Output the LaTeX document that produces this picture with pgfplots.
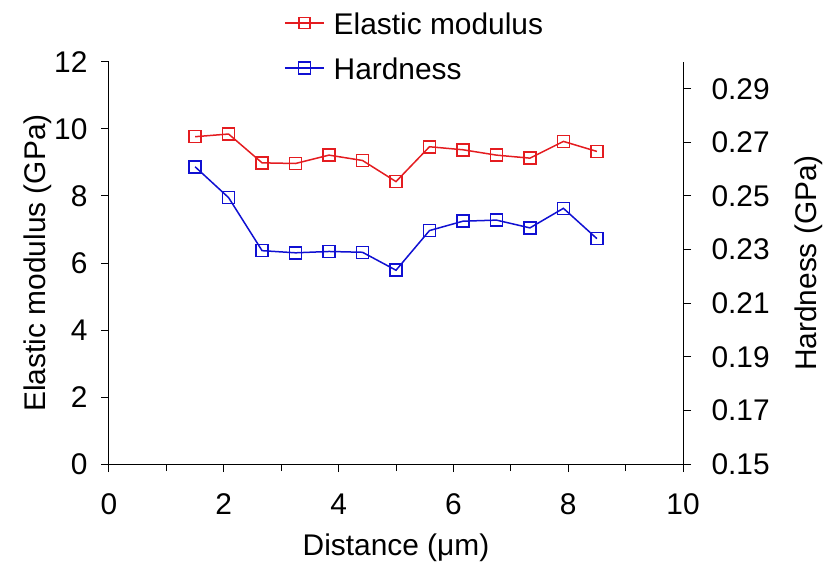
\documentclass[border=0pt]{standalone}
\usepackage{fontspec}
\setmainfont{Liberation Sans}
\usepackage{pgfplots}
\pgfplotsset{compat=1.18}
\definecolor{myred}{RGB}{228,28,32}
\definecolor{myblue}{RGB}{16,16,210}
\newcommand{\bigf}{\fontsize{30}{36}\selectfont}
\pgfplotsset{
  common/.style={
    scale only axis, width=574bp, height=402bp,
    xmin=0, xmax=10,
    axis line style={-, line width=1bp},
    tick align=outside, major tick length=8bp, minor tick length=7bp,
    tick style={line width=1bp, black},
    ticklabel style={font=\bigf},
    label style={font=\bigf},
    /pgf/number format/assume math mode=true,
  },
  legend image code/.code={\draw[mark repeat=2, mark phase=2, #1] plot coordinates {(0bp,0bp) (19.5bp,0bp) (39bp,0bp)};},
}
\begin{document}
\begin{tikzpicture}
\useasboundingbox (-109bp,-103bp) rectangle (720bp,464bp);
\begin{axis}[
  common,
  ymin=0, ymax=12,
  axis x line*=bottom, axis y line*=left,
  xtick={0,2,4,6,8,10}, minor xtick={1,3,5,7,9},
  ytick={0,2,4,6,8,10,12},
  xticklabel style={yshift=-18bp},
  yticklabel style={xshift=-10bp},
  xlabel={Distance (μm)}, ylabel={Elastic modulus (GPa)},
  xlabel style={at={(axis description cs:0.5,-0.209)}, anchor=center},
  ylabel style={at={(axis description cs:-0.1237,0.5)}, anchor=center, rotate=0},
]
\addplot[myred, line width=1.5bp, mark=square, mark size=6bp, mark options={line width=1.5bp, fill=white}] coordinates {
(1.5,9.77) (2.0833,9.85) (2.6667,8.99) (3.25,8.97) (3.8333,9.22) (4.4167,9.06) (5.0,8.43) (5.5833,9.47) (6.1667,9.38) (6.75,9.22) (7.3333,9.13) (7.9167,9.63) (8.5,9.33)
};
\end{axis}
\begin{axis}[
  common,
  ymin=0.15, ymax=0.30,
  axis x line=none, axis y line*=right,
  ytick={0.15,0.17,0.19,0.21,0.23,0.25,0.27,0.29},
  yticklabel style={xshift=17bp, /pgf/number format/.cd, fixed, fixed zerofill, precision=2},
  ylabel={Hardness (GPa)},
  ylabel style={at={(axis description cs:1.2195,0.5)}, anchor=center, rotate=0},
  legend cell align=left,
  legend style={draw=none, fill=none, font=\bigf, at={(rel axis cs:0.3049,1.041)}, anchor=west,
    inner sep=0pt, row sep=23bp, column sep=9bp,
    nodes={inner sep=0pt, text height=22bp, text depth=0bp}},
]
\addlegendimage{myred, line width=1.5bp, mark=square, mark size=5.5bp, mark options={line width=1.5bp, fill=white}}
\addlegendentry{Elastic modulus}
\addplot[myblue, line width=1.5bp, mark=square, mark size=6bp, mark options={line width=1.5bp, fill=white}] coordinates {
(1.5,0.2609) (2.0833,0.2494) (2.6667,0.2296) (3.25,0.2288) (3.8333,0.2293) (4.4167,0.2290) (5.0,0.2223) (5.5833,0.2371) (6.1667,0.2406) (6.75,0.2410) (7.3333,0.2381) (7.9167,0.2454) (8.5,0.2341)
};
\addlegendentry{Hardness}
\end{axis}
\end{tikzpicture}
\end{document}
